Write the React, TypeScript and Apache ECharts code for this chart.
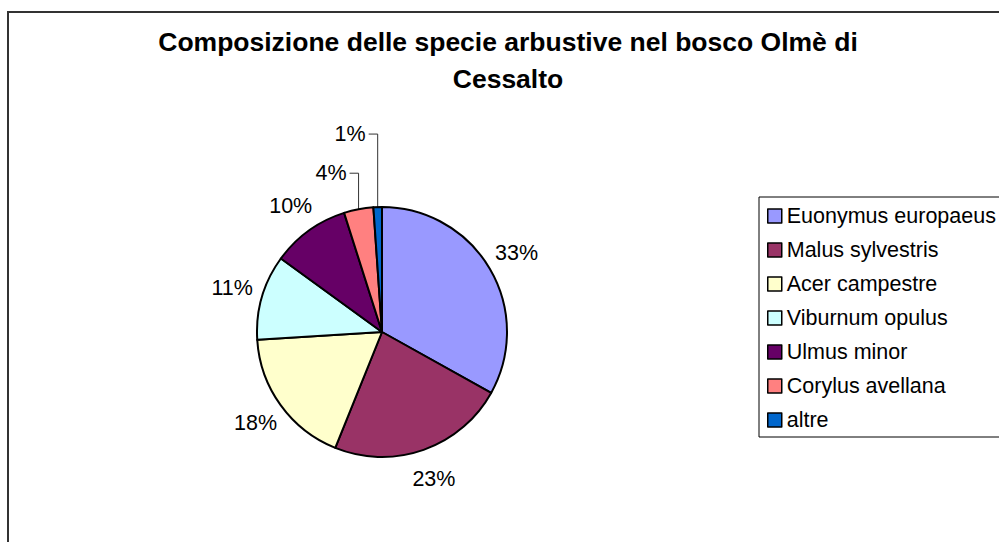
import React, { useEffect, useRef } from "react";
import * as echarts from "echarts";

const titleText = "Composizione delle specie arbustive nel bosco Olmè di\nCessalto";
const species = [
  "Euonymus europaeus",
  "Malus sylvestris",
  "Acer campestre",
  "Viburnum opulus",
  "Ulmus minor",
  "Corylus avellana",
  "altre",
];
const shares = [33.1, 23.0, 17.9, 11.0, 10.1, 3.8, 1.1];
const colors = ["#9999FF", "#993366", "#FFFFCC", "#CCFFFF", "#660066", "#FF8080", "#0066CC"];

// layout constants
const CX = 382;
const CY = 332;
const R = 125;
const LABEL_R = 156;
const leaderLift = [0, 0, 0, 0, 0, 36, 73];
const FONT = "'Liberation Sans', Arial, Helvetica, sans-serif";

export default function App() {
  const ref = useRef<HTMLDivElement>(null);
  useEffect(() => {
    document.body.style.margin = "0";
    document.body.style.overflow = "hidden";
    if (!ref.current) return;
    const chart = echarts.init(ref.current, undefined, { renderer: "svg" });
    const total = shares.reduce((a, b) => a + b, 0);
    const mids: number[] = [];
    let acc = 0;
    shares.forEach((v) => {
      mids.push(((acc + v / 2) / total) * 2 * Math.PI);
      acc += v;
    });
    chart.setOption({
      animation: false,
      backgroundColor: "#ffffff",
      color: colors,
      title: {
        text: titleText,
        left: 508,
        top: 23,
        padding: 0,
        textAlign: "center",
        textStyle: {
          fontFamily: FONT,
          fontWeight: "bold",
          fontSize: 26.5,
          lineHeight: 37,
          color: "#000",
        },
      },
      legend: {
        orient: "vertical",
        left: 759,
        top: 197,
        padding: [8, 400, 6, 8],
        borderColor: "#000",
        borderWidth: 1,
        itemWidth: 14,
        itemHeight: 14,
        itemGap: 12,
        icon: "rect",
        selectedMode: false,
        itemStyle: { borderColor: "#000", borderWidth: 1.5 },
        textStyle: {
          fontFamily: FONT,
          fontSize: 21.5,
          color: "#000",
        },
        data: species,
      },
      graphic: [
        {
          type: "rect",
          shape: { x: 8, y: 12, width: 1400, height: 900 },
          style: { fill: "none", stroke: "#333", lineWidth: 2 },
          silent: true,
        },
      ],
      series: [
        {
          type: "pie",
          center: [CX, CY],
          radius: [0, R],
          startAngle: 90,
          clockwise: true,
          avoidLabelOverlap: false,
          itemStyle: { borderColor: "#000", borderWidth: 2 },
          label: {
            show: true,
            position: "outside",
            formatter: "{d}%",
            fontFamily: FONT,
            fontSize: 21.5,
            color: "#000",
          },
          percentPrecision: 0,
          labelLine: { show: false, lineStyle: { color: "#333", width: 1 } },
          emphasis: { disabled: true },
          labelLayout: (p: any) => {
            const i = p.dataIndex;
            const a = mids[i];
            const dx = Math.sin(a);
            const dy = -Math.cos(a);
            if (leaderLift[i] > 0) {
              const ex = CX + R * dx;
              const ey = CY + R * dy;
              const ly = ey - leaderLift[i];
              return {
                x: ex - 12,
                y: ly,
                align: "right",
                verticalAlign: "middle",
                labelLinePoints: [
                  [ex, ey],
                  [ex, ly],
                  [ex - 9, ly],
                ],
              };
            }
            return {
              x: CX + LABEL_R * dx,
              y: CY + LABEL_R * dy,
              align: "center",
              verticalAlign: "middle",
            };
          },
          data: species.map((name, i) => ({
            name,
            value: shares[i],
            labelLine: { show: leaderLift[i] > 0 },
          })),
        },
      ],
    });
    return () => chart.dispose();
  }, []);
  return <div ref={ref} style={{ width: 999, height: 542 }} />;
}
